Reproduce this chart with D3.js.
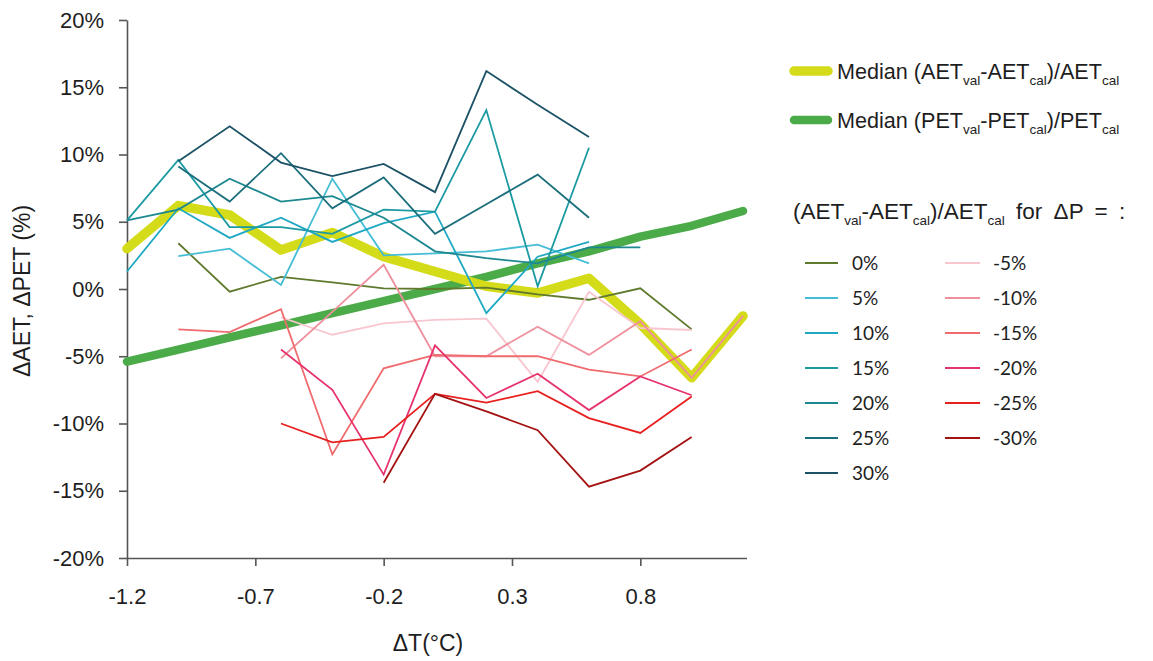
<!DOCTYPE html>
<html>
<head>
<meta charset="utf-8">
<script src="https://cdn.jsdelivr.net/npm/d3@7"></script>
<style>
  body { margin: 0; background: #fff; }
  svg text { font-family: "Liberation Sans", Arial, sans-serif; fill: #1e1e1e; }
  .lg-num { font-family: "Lato", "Liberation Sans", sans-serif; }
</style>
</head>
<body>
<svg id="chart" width="1153" height="661"></svg>
<script>
// Temperature change (°C) at which each scenario was evaluated
const dT = [-1.2, -1.0, -0.8, -0.6, -0.4, -0.2, 0.0, 0.2, 0.4, 0.6, 0.8, 1.0, 1.2];

// Median relative differences (%)
const medianAET = [3.0, 6.2, 5.5, 2.9, 4.2, 2.4, 1.3, 0.2, -0.3, 0.8, -2.6, -6.6, -2.0];
const medianPET = [-5.4, -4.5, -3.6, -2.7, -1.8, -0.9, 0.0, 0.9, 1.9, 2.8, 3.9, 4.7, 5.8];

// (AETval - AETcal)/AETcal for each precipitation change ΔP (%); null = not evaluated
const dP0   = [null, 3.4, -0.2, 0.9, 0.5, 0.05, 0.0, 0.1, -0.4, -0.8, 0.05, -3.0, null];
const dP5   = [null, 2.45, 3.0, 0.3, 8.2, 2.5, 2.65, 2.8, 3.3, 1.9, null, null, null];
const dP10  = [1.3, 6.0, 3.8, 5.3, 3.5, 4.9, 5.75, -1.8, 2.4, 3.5, null, null, null];
const dP15  = [5.1, 9.6, 4.6, 4.6, 4.1, 5.9, 5.75, 13.3, 0.2, 10.5, null, null, null];
const dP20  = [5.1, 5.9, 8.2, 6.5, 6.9, 5.3, 2.8, 2.3, 1.9, 3.1, 3.1, null, null];
const dP25  = [null, 9.1, 6.5, 10.1, 6.0, 8.3, 4.1, 6.3, 8.5, 5.3, null, null, null];
const dP30  = [null, 9.5, 12.1, 9.4, 8.4, 9.3, 7.2, 16.2, 13.7, 11.3, null, null, null];
const dPm5  = [null, null, null, -2.1, -3.4, -2.55, -2.3, -2.2, -6.9, -0.2, -2.9, -3.05, null];
const dPm10 = [null, null, null, -5.15, -1.7, 1.8, -5.0, -5.0, -2.8, -4.9, -2.4, -6.6, -2.0];
const dPm15 = [null, -3.0, -3.2, -1.5, -12.3, -5.9, -4.9, -5.0, -5.0, -6.0, -6.5, -4.5, null];
const dPm20 = [null, null, null, -4.5, -7.5, -13.8, -4.2, -8.1, -6.3, -9.0, -6.5, -7.9, null];
const dPm25 = [null, null, null, -10.0, -11.4, -11.0, -7.8, -8.45, -7.6, -9.6, -10.7, -8.0, null];
const dPm30 = [null, null, null, null, null, -14.4, -7.8, -9.1, -10.5, -14.7, -13.5, -11.0, null];

const posLabels = ["0%", "5%", "10%", "15%", "20%", "25%", "30%"];
const negLabels = ["-5%", "-10%", "-15%", "-20%", "-25%", "-30%"];

const xTicks = [-1.2, -0.7, -0.2, 0.3, 0.8];
const yTicks = [-20, -15, -10, -5, 0, 5, 10, 15, 20];

// Series colours
const posColors = ["#5f7a2c", "#45bdd5", "#1fa8c4", "#1b9aa2", "#1d8890", "#1b6e7b", "#1c5266"];
const negColors = ["#f8c6cf", "#ef909e", "#ef6b6e", "#e6336b", "#e81f1f", "#a51212"];
const posSeries = [dP0, dP5, dP10, dP15, dP20, dP25, dP30];
const negSeries = [dPm5, dPm10, dPm15, dPm20, dPm25, dPm30];

const svg = d3.select("#chart");

const x = d3.scaleLinear().domain([-1.2, 1.2]).range([127, 743]);
const y = d3.scaleLinear().domain([-20, 20]).range([558, 20]);

const hyphenLocale = d3.formatLocale({ decimal: ".", thousands: ",", grouping: [3], currency: ["", ""], minus: "-" });
const fmtX = hyphenLocale.format(".1f");
const fmtY = d => hyphenLocale.format("d")(d) + "%";

// Axes
const yAxis = svg.append("g")
  .attr("transform", `translate(${x(-1.2)},0)`)
  .call(d3.axisLeft(y).tickValues(yTicks).tickFormat(fmtY).tickSize(8).tickSizeOuter(0).tickPadding(15));
const xAxis = svg.append("g")
  .attr("transform", `translate(0,${y(-20)})`)
  .call(d3.axisBottom(x).tickValues(xTicks).tickFormat(fmtX).tickSize(8).tickSizeOuter(0).tickPadding(22));

[yAxis, xAxis].forEach(g => {
  g.select(".domain").attr("stroke", "#555").attr("stroke-width", 1.6);
  g.selectAll(".tick line").attr("stroke", "#555").attr("stroke-width", 1.6);
  g.selectAll(".tick text").attr("font-size", 22).attr("fill", "#1e1e1e")
    .attr("font-family", "Liberation Sans, Arial, sans-serif");
});
xAxis.select(".domain").attr("d", `M${x(-1.2)},0.5H747`);

// Axis titles
svg.append("text")
  .attr("x", 428).attr("y", 651)
  .attr("text-anchor", "middle")
  .attr("font-size", 23)
  .text("ΔT(°C)");
svg.append("text")
  .attr("transform", "translate(30,291) rotate(-90)")
  .attr("text-anchor", "middle")
  .attr("font-size", 23)
  .text("ΔAET, ΔPET (%)");

const line = d3.line()
  .defined(d => d[1] !== null)
  .x(d => x(d[0]))
  .y(d => y(d[1]));
const pairs = vals => dT.map((t, i) => [t, vals[i]]);

// Median curves (thick)
const plot = svg.append("g");
plot.append("path")
  .datum(pairs(medianPET))
  .attr("fill", "none").attr("stroke", "#4aab48").attr("stroke-width", 8.5)
  .attr("stroke-linecap", "round").attr("stroke-linejoin", "round")
  .attr("d", line);
plot.append("path")
  .datum(pairs(medianAET))
  .attr("fill", "none").attr("stroke", "#d4db18").attr("stroke-width", 9.5)
  .attr("stroke-linecap", "round").attr("stroke-linejoin", "round")
  .attr("d", line);

// Individual ΔP scenarios (thin)
const thin = posSeries.map((s, i) => ({ vals: s, color: posColors[i] }))
  .concat(negSeries.map((s, i) => ({ vals: s, color: negColors[i] })));
plot.selectAll("path.scn")
  .data(thin)
  .join("path")
  .attr("class", "scn")
  .attr("fill", "none")
  .attr("stroke", d => d.color)
  .attr("stroke-width", 1.8)
  .attr("stroke-linejoin", "miter")
  .attr("d", d => line(pairs(d.vals)));

// Legend: ratio labels with subscripts
function ratioLabel(sel, prefix, name, suffix, sub) {
  sel.append("tspan").text(prefix + name);
  sel.append("tspan").attr("font-size", sub).attr("dy", 6).text("val");
  sel.append("tspan").attr("dy", -6).text("-" + name);
  sel.append("tspan").attr("font-size", sub).attr("dy", 6).text("cal");
  sel.append("tspan").attr("dy", -6).text(")/" + name);
  sel.append("tspan").attr("font-size", sub).attr("dy", 6).text("cal");
  if (suffix) sel.append("tspan").attr("dy", -6).text(suffix);
}

const medLegend = [
  { name: "AET", color: "#d4db18", w: 9.5, yy: 71 },
  { name: "PET", color: "#4aab48", w: 8.5, yy: 120 }
];
medLegend.forEach(m => {
  svg.append("line")
    .attr("x1", 794).attr("x2", 828).attr("y1", m.yy).attr("y2", m.yy)
    .attr("stroke", m.color).attr("stroke-width", m.w).attr("stroke-linecap", "round");
  const t = svg.append("text").attr("x", 837).attr("y", m.yy + 8).attr("font-size", 21.6);
  ratioLabel(t, "Median (", m.name, null, 13.5);
});

// Legend: scenarios
const title = svg.append("text").attr("x", 793).attr("y", 219).attr("font-size", 22.5)
  .attr("word-spacing", 5);
ratioLabel(title, "(", "AET", " for ΔP = :", 13.5);

const lg = svg.append("g");
posLabels.forEach((lab, i) => {
  const yy = 263 + i * 35;
  lg.append("line").attr("x1", 805).attr("x2", 838).attr("y1", yy).attr("y2", yy)
    .attr("stroke", posColors[i]).attr("stroke-width", 2.2);
  lg.append("text").attr("class", "lg-num").attr("x", 852).attr("y", yy + 7)
    .attr("font-size", 19).text(lab);
});
negLabels.forEach((lab, i) => {
  const yy = 263 + i * 35;
  lg.append("line").attr("x1", 945).attr("x2", 980).attr("y1", yy).attr("y2", yy)
    .attr("stroke", negColors[i]).attr("stroke-width", 2.2);
  lg.append("text").attr("class", "lg-num").attr("x", 993).attr("y", yy + 7)
    .attr("font-size", 19).text(lab);
});
</script>
</body>
</html>
